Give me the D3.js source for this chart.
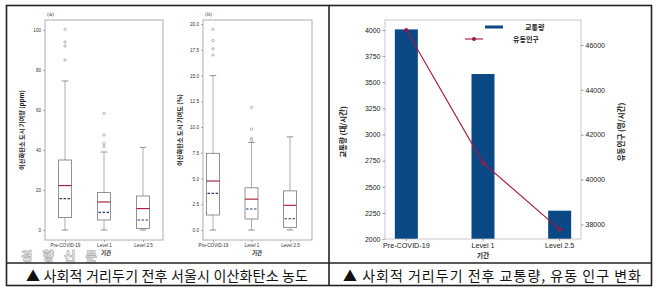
<!DOCTYPE html>
<html>
<head>
<meta charset="utf-8">
<script src="https://cdn.jsdelivr.net/npm/d3@7"></script>
<style>
  body { margin: 0; background: #fff; }
  svg { display: block; font-family: "DejaVu Sans", sans-serif; }
  .kr { font-family: "Noto Sans CJK KR", sans-serif; }
</style>
</head>
<body>
<svg id="chart" width="658" height="296"></svg>
<script>
// categories shared by all three charts
const periods = ["Pre-COVID-19", "Level 1", "Level 2.5"];

// (a) CO2 urban contribution (ppm) box stats
const ppmLow = [0, 0, 0];
const ppmQ1 = [6.2, 5, 0.8];
const ppmMedian = [22.2, 14, 10.7];
const ppmQ3 = [35, 18.7, 17];
const ppmHigh = [74.5, 39, 41.3];
const ppmMean = [15.7, 8.8, 5];
const ppmOutliers = [[85, 92, 94, 100.3], [41.7, 43.3, 47.5, 58.3], []];
const ppmTicks = [0, 20, 40, 60, 80, 100];

// (b) CO2 urban contribution (%) box stats
const pctLow = [0, 0, 0];
const pctQ1 = [1.46, 1.07, 0.26];
const pctMedian = [4.76, 3.0, 2.4];
const pctQ3 = [7.45, 4.1, 3.8];
const pctHigh = [15, 8.5, 9.05];
const pctMean = [3.56, 2.04, 1.1];
const pctOutliers = [[17, 17.6, 18.4, 19.5], [8.7, 8.9, 9.8, 11.9], []];
const pctTicks = [0, 2.5, 5, 7.5, 10, 12.5, 15, 17.5, 20];

// traffic volume and floating population
const traffic = [4006, 3579, 2271];
const population = [46667, 40747, 37787];
const trafficTicks = [2000, 2250, 2500, 2750, 3000, 3250, 3500, 3750, 4000];
const popTicks = [38000, 40000, 42000, 44000, 46000];

const svg = d3.select('#chart');

// watermark (behind everything)
svg.append('text').attr('class', 'kr').attr('x', 21).attr('y', 261)
    .attr('font-size', 12.5).attr('font-weight', 'bold').attr('textLength', 76)
    .attr('fill', '#fff').attr('fill-opacity', 0.5)
    .attr('stroke', '#b4b4b4').attr('stroke-width', 0.8).text('경향신문');

// frame
svg.append('rect').attr('x', 6.5).attr('y', 5.5).attr('width', 645).attr('height', 280)
    .attr('fill', 'none').attr('stroke', '#222').attr('stroke-width', 1.6);
svg.append('line').attr('x1', 329).attr('x2', 329).attr('y1', 5).attr('y2', 286)
    .attr('stroke', '#222').attr('stroke-width', 1.6);
svg.append('line').attr('x1', 6).attr('x2', 652).attr('y1', 263).attr('y2', 263)
    .attr('stroke', '#222').attr('stroke-width', 1.4);

function boxPanel(opt) {
    const g = svg.append('g');
    const x = d3.scalePoint().domain(periods).range(opt.xr);
    const y = d3.scaleLinear().domain(opt.yd).range([240, 20]);

    g.append('rect').attr('x', opt.left).attr('y', 20)
        .attr('width', opt.right - opt.left).attr('height', 220)
        .attr('fill', 'none').attr('stroke', '#999').attr('stroke-width', 0.8);

    const ya = g.append('g').attr('transform', `translate(${opt.left},0)`)
        .call(d3.axisLeft(y).tickValues(opt.ticks).tickSize(2).tickPadding(2).tickFormat(opt.fmt));
    ya.select('.domain').remove();
    ya.selectAll('line').attr('stroke', '#666').attr('stroke-width', 0.5);
    ya.selectAll('text').attr('font-size', 4.6).attr('fill', '#333');

    const xa = g.append('g').attr('transform', 'translate(0,240)')
        .call(d3.axisBottom(x).tickSize(2).tickPadding(1.5));
    xa.select('.domain').remove();
    xa.selectAll('line').attr('stroke', '#666').attr('stroke-width', 0.5);
    xa.selectAll('text').attr('font-size', 4.6).attr('fill', '#333');

    const bw = opt.bw;
    periods.forEach((p, i) => {
        const cx = x(p);
        // whiskers
        g.append('line').attr('x1', cx).attr('x2', cx)
            .attr('y1', y(opt.q3[i])).attr('y2', y(opt.high[i]))
            .attr('stroke', '#999').attr('stroke-width', 0.8);
        g.append('line').attr('x1', cx).attr('x2', cx)
            .attr('y1', y(opt.q1[i])).attr('y2', y(opt.low[i]))
            .attr('stroke', '#999').attr('stroke-width', 0.8);
        [opt.high[i], opt.low[i]].forEach(v => {
            g.append('line').attr('x1', cx - bw / 4).attr('x2', cx + bw / 4)
                .attr('y1', y(v)).attr('y2', y(v))
                .attr('stroke', '#777').attr('stroke-width', 0.8);
        });
        g.append('rect').attr('x', cx - bw / 2).attr('y', y(opt.q3[i]))
            .attr('width', bw).attr('height', y(opt.q1[i]) - y(opt.q3[i]))
            .attr('fill', '#fff').attr('stroke', '#777').attr('stroke-width', 0.8);
        g.append('line').attr('x1', cx - bw / 2).attr('x2', cx + bw / 2)
            .attr('y1', y(opt.median[i])).attr('y2', y(opt.median[i]))
            .attr('stroke', '#a3172f').attr('stroke-width', 1.1);
        g.append('line').attr('x1', cx - bw / 2 + 1).attr('x2', cx + bw / 2 - 1)
            .attr('y1', y(opt.mean[i])).attr('y2', y(opt.mean[i]))
            .attr('stroke', '#22406f').attr('stroke-width', 1.1)
            .attr('stroke-dasharray', '2.5,1.5');
        g.selectAll(null).data(opt.out[i]).enter().append('circle')
            .attr('cx', cx).attr('cy', d => y(d)).attr('r', 1.2)
            .attr('fill', 'none').attr('stroke', '#777').attr('stroke-width', 0.5);
    });

    g.append('text').attr('x', opt.left + 2).attr('y', 16).attr('font-size', 5)
        .attr('fill', '#333').text(opt.tag);
    g.append('text').attr('class', 'kr')
        .attr('transform', `translate(${opt.ylx},130) rotate(-90)`)
        .attr('text-anchor', 'middle').attr('font-size', 6.2).attr('font-weight', 'bold')
        .attr('fill', '#222').text(opt.ylabel);
    g.append('text').attr('class', 'kr').attr('x', opt.xlx).attr('y', 255)
        .attr('text-anchor', 'middle').attr('font-size', 5.5).attr('font-weight', 'bold')
        .attr('fill', '#222').text('기간');
}

boxPanel({
    left: 45, right: 163, xr: [65, 143], yd: [-5, 105], ticks: ppmTicks, fmt: d3.format('d'),
    bw: 13, low: ppmLow, q1: ppmQ1, median: ppmMedian, q3: ppmQ3, high: ppmHigh,
    mean: ppmMean, out: ppmOutliers, tag: '(a)', ylabel: '이산화탄소 도시 기여량 (ppm)',
    ylx: 24, xlx: 106
});
boxPanel({
    left: 203, right: 312, xr: [213, 290], yd: [-0.97, 20.4], ticks: pctTicks, fmt: d3.format('.1f'),
    bw: 13, low: pctLow, q1: pctQ1, median: pctMedian, q3: pctQ3, high: pctHigh,
    mean: pctMean, out: pctOutliers, tag: '(b)', ylabel: '이산화탄소 도시 기여도 (%)',
    ylx: 182, xlx: 257
});

// right chart: traffic bars + population line
const rg = svg.append('g');
const rx = d3.scaleBand().domain(periods).range([368, 598]).paddingInner(0.7).paddingOuter(0.35);
const yT = d3.scaleLinear().domain([2000, 4096]).range([239, 20]);
const yP = d3.scaleLinear().domain([37356, 47111]).range([239, 20]);

rg.selectAll('.bar').data(traffic).enter().append('rect')
    .attr('class', 'bar')
    .attr('x', (d, i) => rx(periods[i]))
    .attr('width', rx.bandwidth())
    .attr('y', d => yT(d))
    .attr('height', d => 239 - yT(d))
    .attr('fill', '#0a4886');

rg.append('rect').attr('x', 385).attr('y', 20).attr('width', 196).attr('height', 219)
    .attr('fill', 'none').attr('stroke', '#bbb').attr('stroke-width', 0.8);

const ax = rg.append('g').attr('transform', 'translate(0,239)')
    .call(d3.axisBottom(rx).tickSize(2).tickPadding(1.5));
ax.select('.domain').remove();
ax.selectAll('line').attr('stroke', '#555').attr('stroke-width', 0.6);
ax.selectAll('text').attr('font-size', 7.2).attr('fill', '#222');

const al = rg.append('g').attr('transform', 'translate(385,0)')
    .call(d3.axisLeft(yT).tickValues(trafficTicks).tickSize(2.5).tickPadding(2).tickFormat(d3.format('d')));
al.select('.domain').remove();
al.selectAll('line').attr('stroke', '#555').attr('stroke-width', 0.6);
al.selectAll('text').attr('font-size', 7).attr('fill', '#222');

const ar = rg.append('g').attr('transform', 'translate(581,0)')
    .call(d3.axisRight(yP).tickValues(popTicks).tickSize(2.5).tickPadding(2).tickFormat(d3.format('d')));
ar.select('.domain').remove();
ar.selectAll('line').attr('stroke', '#555').attr('stroke-width', 0.6);
ar.selectAll('text').attr('font-size', 7).attr('fill', '#222');

const line = d3.line()
    .x((d, i) => rx(periods[i]) + rx.bandwidth() / 2)
    .y(d => yP(d));
rg.append('path').datum(population).attr('d', line)
    .attr('fill', 'none').attr('stroke', '#a6163f').attr('stroke-width', 1.1);
rg.selectAll('.pt').data(population).enter().append('circle')
    .attr('class', 'pt')
    .attr('cx', (d, i) => rx(periods[i]) + rx.bandwidth() / 2)
    .attr('cy', d => yP(d)).attr('r', 2)
    .attr('fill', '#a6163f');

// legend
rg.append('rect').attr('x', 485).attr('y', 25.5).attr('width', 18).attr('height', 3)
    .attr('fill', '#0a4886');
rg.append('text').attr('class', 'kr').attr('x', 525).attr('y', 30).attr('font-size', 7)
    .attr('font-weight', 'bold').attr('fill', '#222').text('교통량');
rg.append('line').attr('x1', 465).attr('x2', 483).attr('y1', 39).attr('y2', 39)
    .attr('stroke', '#a6163f').attr('stroke-width', 1.1);
rg.append('circle').attr('cx', 474).attr('cy', 39).attr('r', 2).attr('fill', '#a6163f');
rg.append('text').attr('class', 'kr').attr('x', 513).attr('y', 42).attr('font-size', 7)
    .attr('font-weight', 'bold').attr('fill', '#222').text('유동인구');

rg.append('text').attr('class', 'kr')
    .attr('transform', 'translate(346,132) rotate(-90)')
    .attr('text-anchor', 'middle').attr('font-size', 7.5).attr('font-weight', 'bold')
    .attr('fill', '#222').text('교통량 (대/시간)');
rg.append('text').attr('class', 'kr')
    .attr('transform', 'translate(624,132) rotate(-90)')
    .attr('text-anchor', 'middle').attr('font-size', 7.5).attr('font-weight', 'bold')
    .attr('fill', '#222').text('유동인구 (명/시간)');
rg.append('text').attr('class', 'kr').attr('x', 483).attr('y', 257.5)
    .attr('text-anchor', 'middle').attr('font-size', 6.8).attr('font-weight', 'bold')
    .attr('fill', '#222').text('기간');

// captions
svg.append('text').attr('class', 'kr').attr('x', 26).attr('y', 281)
    .attr('font-size', 14).attr('textLength', 282).attr('lengthAdjust', 'spacing')
    .attr('fill', '#111').text('▲ 사회적 거리두기 전후 서울시 이산화탄소 농도');
svg.append('text').attr('class', 'kr').attr('x', 343).attr('y', 281)
    .attr('font-size', 14).attr('textLength', 298).attr('lengthAdjust', 'spacing')
    .attr('fill', '#111').text('▲ 사회적 거리두기 전후 교통량, 유동 인구 변화');
</script>
</body>
</html>
